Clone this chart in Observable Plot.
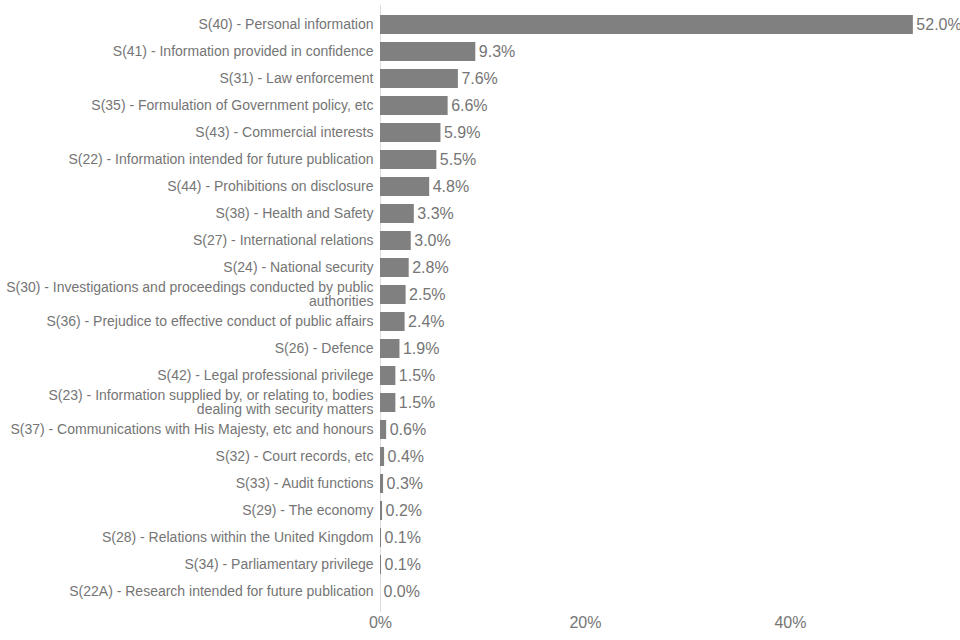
<!DOCTYPE html>
<html><head><meta charset="utf-8">
<script src="https://cdn.jsdelivr.net/npm/d3@7"></script>
<script src="https://cdn.jsdelivr.net/npm/@observablehq/plot@0.6"></script>
<style>body{margin:0;background:#fff;font-family:"Liberation Sans",Arial,sans-serif}</style>
</head><body><div id="c"></div>
<script>
const categories = [
"S(40) - Personal information",
"S(41) - Information provided in confidence",
"S(31) - Law enforcement",
"S(35) - Formulation of Government policy, etc",
"S(43) - Commercial interests",
"S(22) - Information intended for future publication",
"S(44) - Prohibitions on disclosure",
"S(38) - Health and Safety",
"S(27) - International relations",
"S(24) - National security",
"S(30) - Investigations and proceedings conducted by public\nauthorities",
"S(36) - Prejudice to effective conduct of public affairs",
"S(26) - Defence",
"S(42) - Legal professional privilege",
"S(23) - Information supplied by, or relating to, bodies\ndealing with security matters",
"S(37) - Communications with His Majesty, etc and honours",
"S(32) - Court records, etc",
"S(33) - Audit functions",
"S(29) - The economy",
"S(28) - Relations within the United Kingdom",
"S(34) - Parliamentary privilege",
"S(22A) - Research intended for future publication"];
const values = [52.0,9.3,7.6,6.6,5.9,5.5,4.8,3.3,3.0,2.8,2.5,2.4,1.9,1.5,1.5,0.6,0.4,0.3,0.2,0.1,0.1,0.0];
const xTicks = [0,20,40];
const data = categories.map((c,i)=>({c, v: values[i]}));
const chart = Plot.plot({
  width: 960, height: 640,
  marginLeft: 380, marginRight: 0, marginTop: 5, marginBottom: 28,
  style: {fontFamily: '"Liberation Sans",Arial,sans-serif', color: "#757575"},
  x: {domain: [0, 56.6], ticks: xTicks, tickFormat: d => d + "%", tickSize: 0, label: null, tickPadding: 4},
  y: {domain: categories, paddingInner: 0.28, paddingOuter: 0.1, label: null, tickSize: 0, tickPadding: 7},
  marks: [
    Plot.ruleX([0], {stroke: "#ddd"}),
    Plot.barX(data, {y: "c", x: "v", fill: "#808080"}),
    Plot.text(data, {y: "c", x: "v", text: d => d.v.toFixed(1) + "%", textAnchor: "start", dx: 3, fontSize: 16, fill: "#757575"})
  ]
});
chart.querySelectorAll('[aria-label="x-axis tick label"] text').forEach(t=>t.style.fontSize="16px");
chart.querySelectorAll('[aria-label="y-axis tick label"] text').forEach(t=>t.style.fontSize="14px");
document.getElementById("c").append(chart);
</script></body></html>
